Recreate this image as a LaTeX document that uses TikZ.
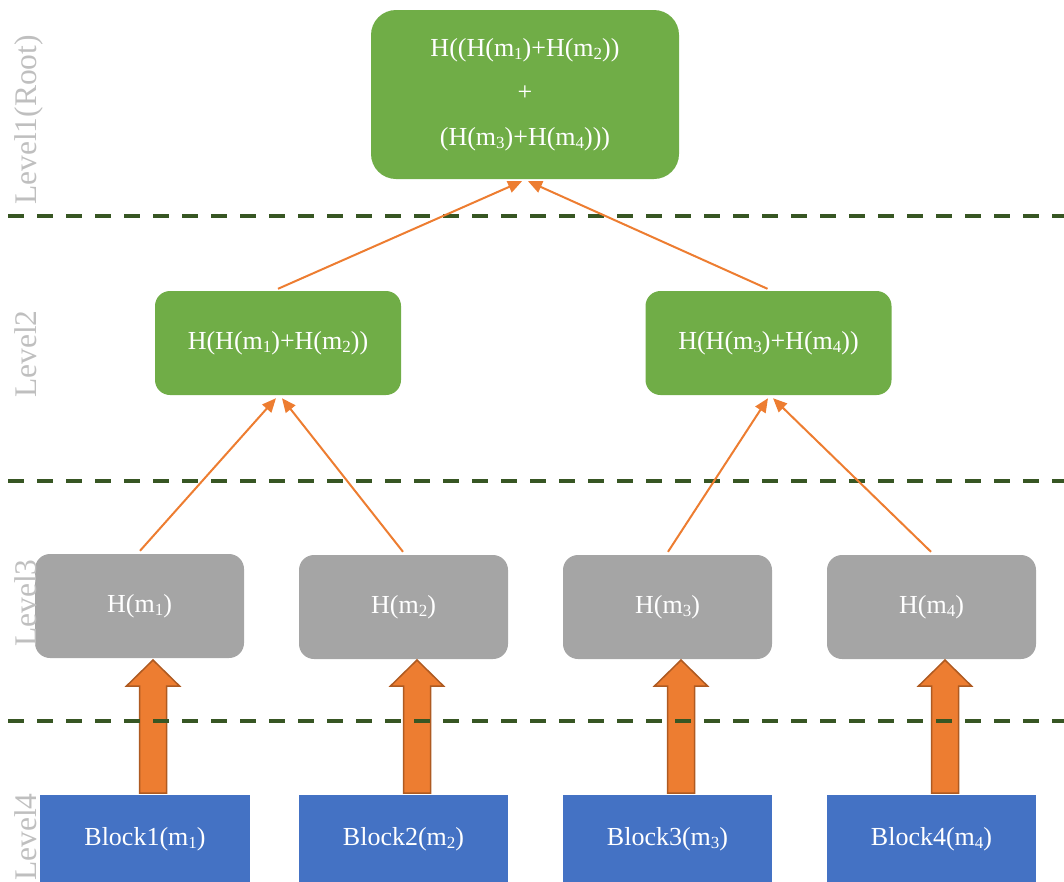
\documentclass[tikz,border=0pt]{standalone}
\usepackage{fontspec}
\setmainfont{Liberation Serif}
\usetikzlibrary{arrows.meta,calc}
\definecolor{hgreen}{HTML}{70AD47}
\definecolor{hgray}{HTML}{A5A5A5}
\definecolor{hblue}{HTML}{4472C4}
\definecolor{horange}{HTML}{ED7D31}
\definecolor{horangedark}{HTML}{AE5A21}
\definecolor{hdash}{HTML}{375623}
\definecolor{hlabel}{HTML}{BFBFBF}
% lowered, smaller index digit
\newcommand{\msub}[1]{\raisebox{-0.12em}{\fontsize{17}{17}\selectfont #1}}
\begin{document}
\begin{tikzpicture}[x=1pt,y=-1pt,
  txt/.style={font=\fontsize{26}{30}\selectfont, text=white, inner sep=0pt},
  rootbox/.style={txt, fill=hgreen, rounded corners=25pt, minimum width=308pt, minimum height=169pt, align=center, font=\fontsize{26}{44.5}\selectfont},
  midbox/.style={txt, fill=hgreen, rounded corners=15pt, minimum width=246pt, minimum height=104pt},
  leafbox/.style={txt, fill=hgray, rounded corners=15pt, minimum width=209pt, minimum height=104pt},
  blockbox/.style={txt, fill=hblue, minimum width=209pt, minimum height=88pt},
  lvl/.style={font=\fontsize{31.5}{32}\selectfont, text=hlabel, rotate=90, anchor=base, inner sep=0pt},
  link/.style={draw=horange, line width=2pt, -{Triangle[length=14pt,width=12pt]}},
  fat/.style={fill=horange, draw=horangedark, line width=1.5pt, line join=miter},
  sep/.style={draw=hdash, line width=4pt, dash pattern=on 16pt off 13pt}]
\useasboundingbox (0,0) rectangle (1064,881);

% tree nodes
\node[rootbox] (root) at (525,94.5) {H((H(m\msub{1})+H(m\msub{2}))\\+\\(H(m\msub{3})+H(m\msub{4})))};
\node[midbox] (l2a) at (278,343) {H(H(m\msub{1})+H(m\msub{2}))};
\node[midbox] (l2b) at (768.5,343) {H(H(m\msub{3})+H(m\msub{4}))};
\node[leafbox] (h1) at (139.5,606) {H(m\msub{1})};
\node[leafbox] (h2) at (403.5,607) {H(m\msub{2})};
\node[leafbox] (h3) at (667.5,607) {H(m\msub{3})};
\node[leafbox] (h4) at (931.5,607) {H(m\msub{4})};
\node[blockbox, minimum width=210pt] (b1) at (145,839) {Block1(m\msub{1})};
\node[blockbox] (b2) at (403.5,839) {Block2(m\msub{2})};
\node[blockbox] (b3) at (667.5,839) {Block3(m\msub{3})};
\node[blockbox] (b4) at (931.5,839) {Block4(m\msub{4})};

% block arrows from data blocks up to their hashes
\foreach \c in {153,417,681,945}
  \draw[fat] (\c-13.5,793) -- (\c-13.5,686) -- (\c-26.5,686) -- (\c,660)
             -- (\c+26.5,686) -- (\c+13.5,686) -- (\c+13.5,793) -- cycle;

% level separators
\draw[sep] (8,216) -- (1064,216);
\draw[sep] (8,481) -- (1064,481);
\draw[sep] (8,721) -- (1064,721);

% hash links
\draw[link] ($(l2a.north)+(0,-2)$) -- ($(root.south)+(-3,2)$);
\draw[link] ($(l2b.north)+(-1,-2)$) -- ($(root.south)+(3,2)$);
\draw[link] ($(h1.north)+(0.5,-3)$) -- ($(l2a.south)+(-2,3)$);
\draw[link] ($(h2.north)+(-0.5,-3)$) -- ($(l2a.south)+(4,3)$);
\draw[link] ($(h3.north)+(0.5,-3)$) -- ($(l2b.south)+(-0.5,3)$);
\draw[link] ($(h4.north)+(-0.5,-3)$) -- ($(l2b.south)+(4.5,3)$);

% level labels
\node[lvl] (lv1) at (36,120) {Level1(Root)};
\node[lvl] (lv2) at (36,354) {Level2};
\node[lvl] (lv3) at (36,603) {Level3};
\node[lvl] (lv4) at (36,837) {Level4};
\end{tikzpicture}
\end{document}
